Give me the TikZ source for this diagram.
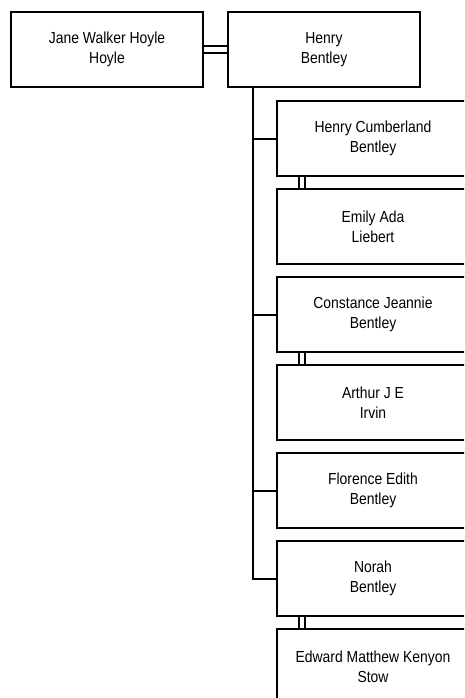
\documentclass[tikz,border=0pt]{standalone}
\usepackage{fontspec}
\setmainfont{Liberation Sans}[FakeStretch=0.87]
\begin{document}
\begin{tikzpicture}[x=1pt,y=-1pt,
  person/.style={draw=black, line width=2pt, fill=white, minimum width=192pt, minimum height=75pt,
    inner sep=0pt, outer sep=0pt, align=center, font=\fontsize{16}{20}\selectfont},
  link/.style={draw=black, line width=2pt},
  spouse/.style={draw=black, line width=2pt}]
\useasboundingbox (0,0) rectangle (464,698);
\clip (0,0) rectangle (464,698);
\node[person] (jane) at (107,49.5) {Jane Walker Hoyle\\Hoyle};
\node[person] (henry) at (324,49.5) {Henry\\Bentley};
\node[person] (hc) at (373,138.5) {Henry Cumberland\\Bentley};
\node[person] (emily) at (373,226.5) {Emily Ada\\Liebert};
\node[person] (constance) at (373,314.5) {Constance Jeannie\\Bentley};
\node[person] (arthur) at (373,402.5) {Arthur J E\\Irvin};
\node[person] (florence) at (373,490.5) {Florence Edith\\Bentley};
\node[person] (norah) at (373,578.5) {Norah\\Bentley};
\node[person] (edward) at (373,666.5) {Edward Matthew Kenyon\\Stow};
% marriage double lines
\draw[spouse] ([yshift=3.5pt]jane.east) -- ([yshift=3.5pt]henry.west);
\draw[spouse] ([yshift=-3.5pt]jane.east) -- ([yshift=-3.5pt]henry.west);
\draw[spouse] ([xshift=22pt]hc.south west) -- ([xshift=22pt]emily.north west);
\draw[spouse] ([xshift=28pt]hc.south west) -- ([xshift=28pt]emily.north west);
\draw[spouse] ([xshift=22pt]constance.south west) -- ([xshift=22pt]arthur.north west);
\draw[spouse] ([xshift=28pt]constance.south west) -- ([xshift=28pt]arthur.north west);
\draw[spouse] ([xshift=22pt]norah.south west) -- ([xshift=22pt]edward.north west);
\draw[spouse] ([xshift=28pt]norah.south west) -- ([xshift=28pt]edward.north west);
% descent lines
\coordinate (trunk) at ([xshift=25pt]henry.south west);
\draw[link] (trunk) |- (norah.west);
\draw[link] (trunk |- hc.west) -- (hc.west);
\draw[link] (trunk |- constance.west) -- (constance.west);
\draw[link] (trunk |- florence.west) -- (florence.west);
\end{tikzpicture}
\end{document}
